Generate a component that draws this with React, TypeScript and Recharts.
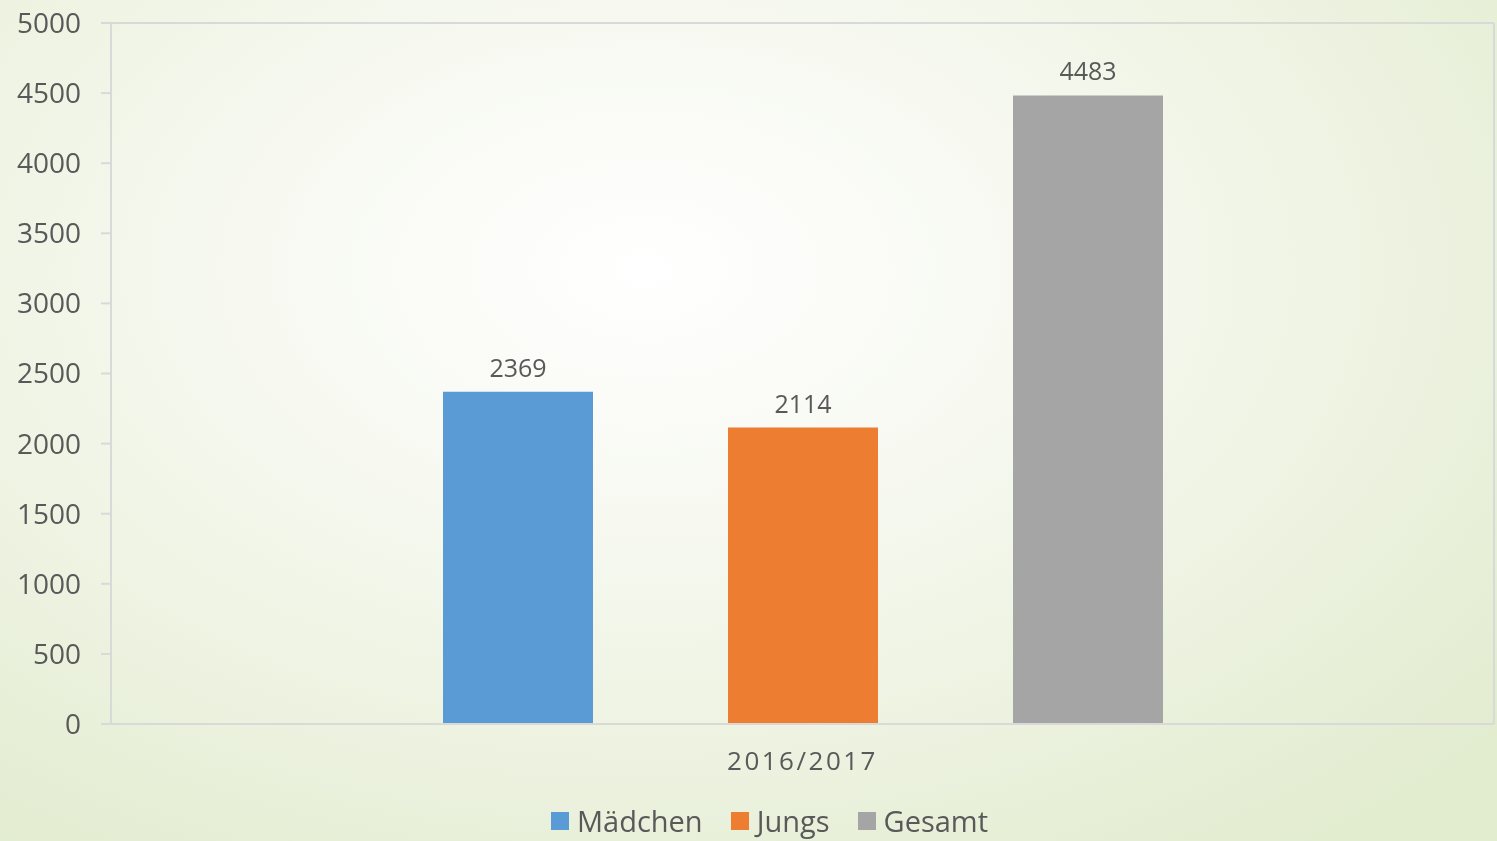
import React from 'react';
import {
  BarChart,
  Bar,
  XAxis,
  YAxis,
  CartesianGrid,
  Legend,
  LabelList,
} from 'recharts';

// school year and the three counts shown
const categories = ['2016/2017'];
const maedchen = [2369];
const jungs = [2114];
const gesamt = [4483];
const yTicks = [0, 500, 1000, 1500, 2000, 2500, 3000, 3500, 4000, 4500, 5000];

const seriesInfo = [
  { key: 'Mädchen', color: '#5B9BD5' },
  { key: 'Jungs', color: '#ED7D31' },
  { key: 'Gesamt', color: '#A5A5A5' },
];

const data = categories.map((name, i) => ({
  name,
  'Mädchen': maedchen[i],
  Jungs: jungs[i],
  Gesamt: gesamt[i],
}));

const FONT = '"Open Sans", sans-serif';
const TEXT = '#595959';

const LegendBox = () => (
  <div
    style={{
      display: 'flex',
      justifyContent: 'center',
      alignItems: 'center',
      fontFamily: FONT,
      fontSize: 29,
      color: TEXT,
      paddingLeft: 42,
      marginTop: 12,
    }}
  >
    {seriesInfo.map((s) => (
      <span key={s.key} style={{ display: 'flex', alignItems: 'center', margin: '0 14px' }}>
        <span style={{ width: 18, height: 18, background: s.color, marginRight: 8, display: 'inline-block' }} />
        {s.key}
      </span>
    ))}
  </div>
);

const App: React.FC = () => {
  return (
    <div
      style={{
        position: 'fixed',
        left: 0,
        top: 0,
        width: 1497,
        height: 841,
        background:
          'radial-gradient(ellipse 75% 85% at 43% 32%, #ffffff 0%, #f7f9f1 35%, #eef3e2 65%, #e2eccf 100%)',
      }}
    >
      <BarChart
        width={1497}
        height={841}
        data={data}
        margin={{ top: 23, right: 0, bottom: 0, left: 0 }}
        barGap={135}
        barSize={150}
      >
        <CartesianGrid vertical={false} stroke="#d9d9d9" strokeWidth={2} />
        <XAxis
          dataKey="name"
          height={65}
          axisLine={{ stroke: '#d9d9d9', strokeWidth: 2 }}
          tickLine={false}
          tickSize={0}
          tickMargin={28}
          tick={{ fill: TEXT, fontSize: 26, fontFamily: FONT, letterSpacing: 2.5 }}
        />
        <YAxis
          yAxisId="left"
          width={111}
          domain={[0, 5000]}
          ticks={yTicks}
          interval={0}
          axisLine={{ stroke: '#d9d9d9', strokeWidth: 2 }}
          tickLine={{ stroke: '#d9d9d9', strokeWidth: 2 }}
          tickSize={10}
          tickMargin={20}
          tick={{ fill: TEXT, fontSize: 28, fontFamily: FONT }}
        />
        <YAxis
          yAxisId="right"
          orientation="right"
          width={3}
          domain={[0, 5000]}
          tick={false}
          tickLine={false}
          axisLine={{ stroke: '#d9d9d9', strokeWidth: 2 }}
        />
        <Legend verticalAlign="bottom" height={52} content={<LegendBox />} />
        {seriesInfo.map((s) => (
          <Bar key={s.key} yAxisId="left" dataKey={s.key} fill={s.color} isAnimationActive={false}>
            <LabelList
              dataKey={s.key}
              position="top"
              offset={15}
              style={{ fill: TEXT, fontSize: 25, fontFamily: FONT }}
            />
          </Bar>
        ))}
      </BarChart>
    </div>
  );
};

export default App;
